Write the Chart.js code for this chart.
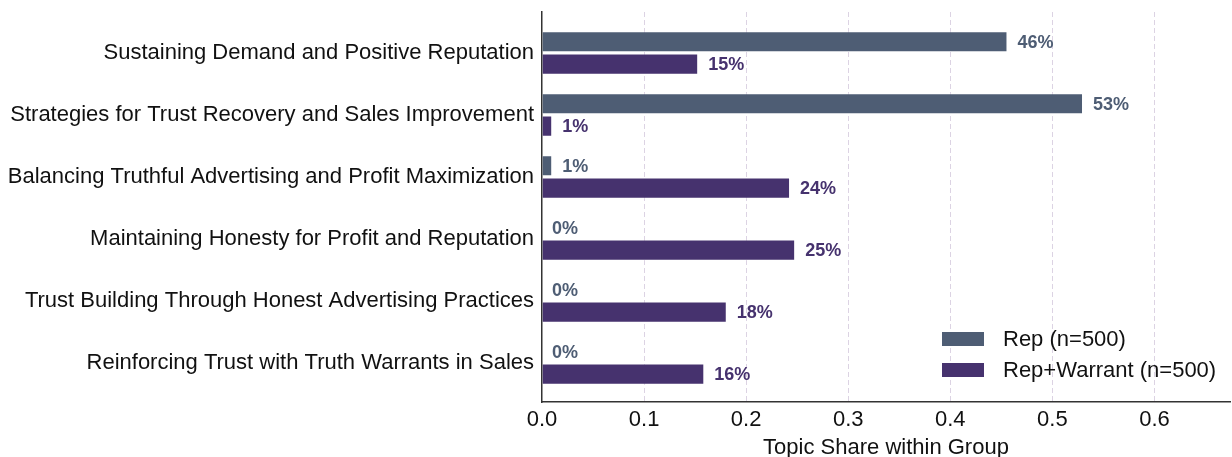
<!DOCTYPE html>
<html>
<head>
<meta charset="utf-8">
<script src="https://cdn.jsdelivr.net/npm/chart.js@4.4.1/dist/chart.umd.min.js"></script>
<style>
html,body{margin:0;padding:0;background:#fff;}
#wrap{width:1232px;height:457px;position:relative;}
</style>
</head>
<body>
<div id="wrap"><canvas id="c" width="1232" height="457"></canvas></div>
<script>
const categories = [
  "Sustaining Demand and Positive Reputation",
  "Strategies for Trust Recovery and Sales Improvement",
  "Balancing Truthful Advertising and Profit Maximization",
  "Maintaining Honesty for Profit and Reputation",
  "Trust Building Through Honest Advertising Practices",
  "Reinforcing Trust with Truth Warrants in Sales"
];
const repValues = [0.456, 0.530, 0.010, 0.0, 0.0, 0.0];
const warrantValues = [0.153, 0.010, 0.243, 0.248, 0.181, 0.159];
const xTicks = [0.0, 0.1, 0.2, 0.3, 0.4, 0.5, 0.6];
const seriesNames = ["Rep (n=500)", "Rep+Warrant (n=500)"];
const seriesColors = ["#4e5d74", "#46326e"];

const FONT = "'Liberation Sans', Arial, sans-serif";

const valueLabels = {
  id: 'valueLabels',
  afterDatasetsDraw(chart) {
    const ctx = chart.ctx;
    ctx.save();
    ctx.font = "bold 18px " + FONT;
    ctx.textBaseline = 'middle';
    ctx.textAlign = 'left';
    chart.data.datasets.forEach((ds, di) => {
      const meta = chart.getDatasetMeta(di);
      ctx.fillStyle = ds.backgroundColor;
      meta.data.forEach((el, i) => {
        const v = ds.data[i].x;
        ctx.fillText(Math.round(v * 100) + '%', el.x + 10, el.y + 1);
      });
    });
    ctx.restore();
  }
};

const innerLegend = {
  id: 'innerLegend',
  afterDraw(chart) {
    const ctx = chart.ctx;
    ctx.save();
    ctx.font = "22px " + FONT;
    ctx.textBaseline = 'middle';
    ctx.textAlign = 'left';
    const boxX = 942, boxW = 42, boxH = 14;
    const rows = [339, 370];
    chart.data.datasets.forEach((ds, i) => {
      const cy = rows[i];
      ctx.fillStyle = ds.backgroundColor;
      ctx.fillRect(boxX, cy - boxH / 2, boxW, boxH);
      ctx.fillStyle = '#111';
      ctx.fillText(ds.label, 1003, cy + 1);
    });
    ctx.restore();
  }
};

const datasets = [repValues, warrantValues].map((vals, si) => ({
  label: seriesNames[si],
  data: vals.map((v, i) => ({ x: v, y: i })),
  backgroundColor: seriesColors[si],
  borderColor: 'rgba(255,255,255,0.35)',
  borderWidth: 1,
  categoryPercentage: 0.72,
  barPercentage: 0.95
}));

new Chart(document.getElementById('c'), {
  type: 'bar',
  data: { datasets },
  options: {
    indexAxis: 'y',
    responsive: false,
    animation: false,
    layout: { padding: { top: 12, right: 2, left: 0, bottom: 0 } },
    plugins: { legend: { display: false }, tooltip: { enabled: false } },
    scales: {
      x: {
        type: 'linear',
        min: 0,
        max: 0.674,
        afterBuildTicks(scale) { scale.ticks = xTicks.map(v => ({ value: v })); },
        afterFit(scale) { scale.height = 55; },
        ticks: {
          color: '#111',
          font: { family: FONT, size: 22 },
          padding: 5,
          maxRotation: 0,
          callback: v => v.toFixed(1)
        },
        grid: {
          drawTicks: false,
          color: ctx => (ctx.tick && ctx.tick.value === 0) ? 'rgba(0,0,0,0)' : '#dcd3e3',
          lineWidth: 1
        },
        border: { display: true, color: '#333', width: 1.5, dash: [5, 3] },
        title: {
          display: true,
          text: 'Topic Share within Group',
          color: '#111',
          font: { family: FONT, size: 22 },
          padding: { top: 0, bottom: -4 }
        }
      },
      y: {
        type: 'linear',
        reverse: true,
        offset: false,
        min: -0.66,
        max: 5.63,
        afterBuildTicks(scale) { scale.ticks = categories.map((c, i) => ({ value: i })); },
        afterFit(scale) { scale.width = 542; scale.paddingTop = 0; scale.paddingBottom = 0; },
        ticks: {
          color: '#111',
          font: { family: FONT, size: 22 },
          padding: 8,
          callback: v => categories[v]
        },
        grid: { display: false, drawTicks: false, offset: false },
        border: { display: true, color: '#333', width: 1.5 }
      }
    }
  },
  plugins: [valueLabels, innerLegend]
});
</script>
</body>
</html>
